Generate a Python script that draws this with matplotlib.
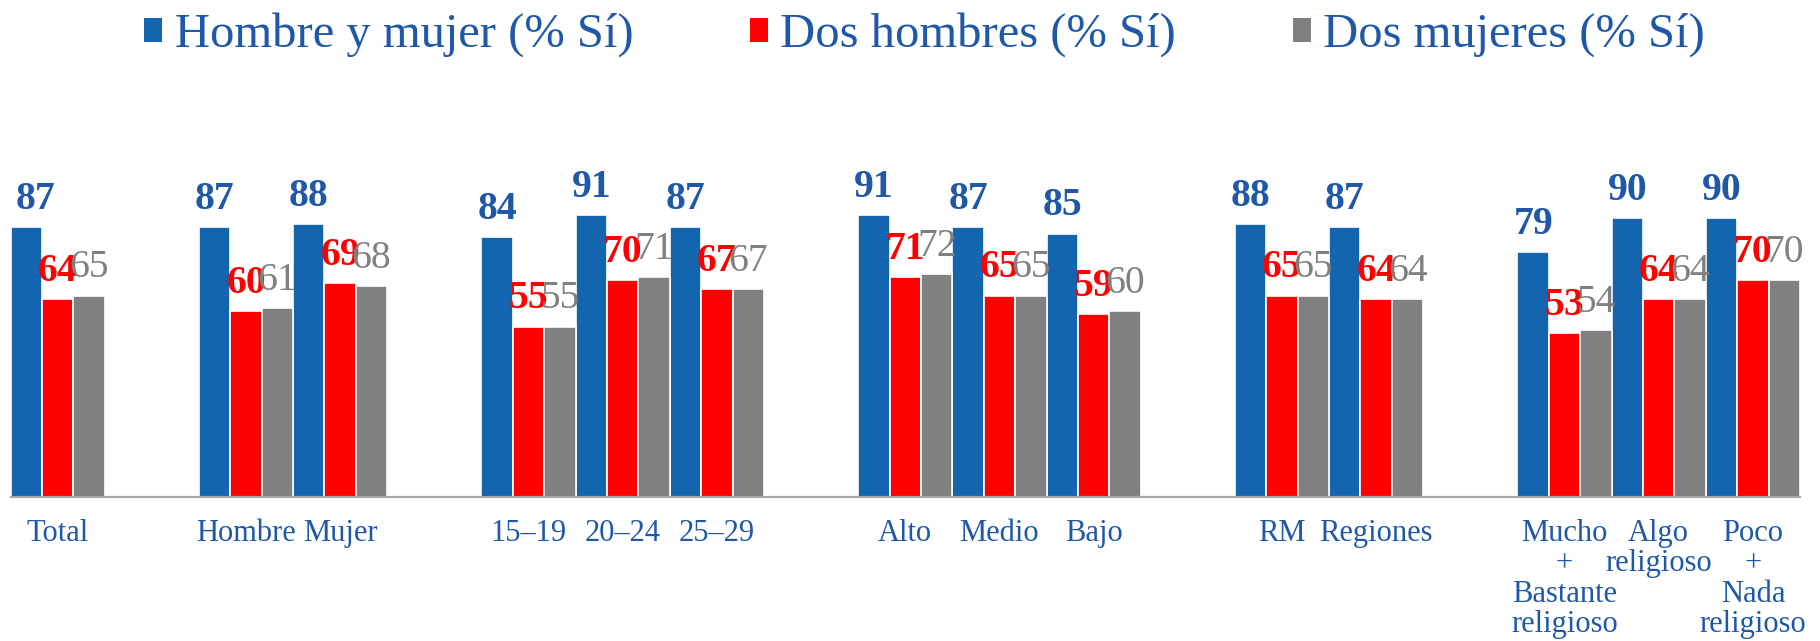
import numpy as np
import matplotlib
matplotlib.use("Agg")
import matplotlib.pyplot as plt

plt.rcParams['font.family'] = ['Liberation Serif', 'DejaVu Serif']

# categories, split in groups (a blank slot is left between groups)
groups = [
    ["Total"],
    ["Hombre", "Mujer"],
    ["15–19", "20–24", "25–29"],
    ["Alto", "Medio", "Bajo"],
    ["RM", "Regiones"],
    ["Mucho\n+\nBastante\nreligioso", "Algo\nreligioso", "Poco\n+\nNada\nreligioso"],
]
hombre_mujer = [87, 87, 88, 84, 91, 87, 91, 87, 85, 88, 87, 79, 90, 90]
dos_hombres = [64, 60, 69, 55, 70, 67, 71, 65, 59, 65, 64, 53, 64, 70]
dos_mujeres = [65, 61, 68, 55, 71, 67, 72, 65, 60, 65, 64, 54, 64, 70]
series_names = ["Hombre y mujer (% Sí)", "Dos hombres (% Sí)", "Dos mujeres (% Sí)"]

c_blue = "#1265AE"
c_red = "#FF0000"
c_gray = "#808080"
c_text = "#1F58A8"

labels = []
pos = []
p = 0
for g in groups:
    for lab in g:
        labels.append(lab)
        pos.append(p)
        p += 1
    p += 1
pos = np.array(pos)
n_slots = p - 1

fig = plt.figure(figsize=(18.2, 6.41), dpi=100)
ax = fig.add_axes([10.5 / 1820, 0.2246, 1789.5 / 1820, 0.4836])

w = 1 / 3
series = [hombre_mujer, dos_hombres, dos_mujeres]
colors = [c_blue, c_red, c_gray]
weights = ["bold", "bold", "normal"]
txt_colors = [c_text, c_red, c_gray]
texts = []
for k, (vals, col) in enumerate(zip(series, colors)):
    x = pos + (k - 1) * w
    ax.bar(x, vals, width=w, color=col, edgecolor="white", linewidth=1.2,
           label=series_names[k])
    for xi, v in zip(x, vals):
        t = ax.annotate(str(v), (xi, v), xytext=(0, 13), textcoords="offset points",
                        ha="center", va="baseline", fontsize=28.5,
                        fontweight=weights[k], color=txt_colors[k],
                        annotation_clip=False)
        texts.append(t)

ax.set_xlim(-0.5, n_slots - 0.5)
ax.set_ylim(0, 100)
ax.set_xticks(pos)
ax.set_xticklabels(labels, fontsize=22, color=c_text, linespacing=1.07)
ax.tick_params(axis="x", length=0, pad=15.5)
ax.set_yticks([])
for s in ["top", "left", "right"]:
    ax.spines[s].set_visible(False)
ax.spines["bottom"].set_color("#A6A6A6")
ax.spines["bottom"].set_linewidth(1.6)

leg = fig.legend(loc="upper center", bbox_to_anchor=(0.508, 1.026), ncol=3,
                 frameon=False, fontsize=35, handlelength=0.38, handleheight=0.38,
                 handletextpad=0.25, columnspacing=2.4, borderpad=0.1)
for t in leg.get_texts():
    t.set_color(c_text)
for h in leg.legend_handles:
    h.set_edgecolor("none")

# keep value labels inside the plot area, as the original does
fig.canvas.draw()
r = fig.canvas.get_renderer()
ax_left = ax.get_window_extent(r).x0
for t in texts:
    bb = t.get_window_extent(r)
    if bb.x0 < ax_left + 5:
        dx = (ax_left + 5 - bb.x0) * 72 / fig.dpi
        ox, oy = t.xyann
        t.xyann = (ox + dx, oy)

fig.savefig("out.png", dpi=100)
